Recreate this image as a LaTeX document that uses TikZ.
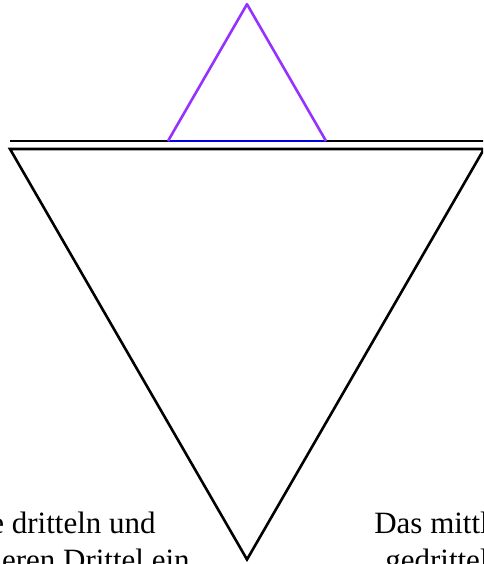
\documentclass[tikz,border=0pt]{standalone}
\usepackage{fontspec}
\setmainfont{Liberation Serif}
\definecolor{kochviolet}{RGB}{150,50,255}
\definecolor{kochblue}{RGB}{0,0,225}
\begin{document}
\begin{tikzpicture}[x=1pt, y=-1pt, line width=2.6pt,
  caption/.style={inner sep=0pt, font=\fontsize{31}{37}\selectfont}]
\useasboundingbox (0,0) rectangle (483,564);
\clip (0,0) rectangle (483,564);
\coordinate (l) at (10,149);
\coordinate (r) at (484,149);
\coordinate (bottom) at (247,559.5);
\coordinate (ul) at (10,141);
\coordinate (ur) at (484,141);
\coordinate (p) at (168,141);
\coordinate (q) at (326,141);
\coordinate (top) at (247,4.2);

\draw (l) -- (bottom) -- (r) -- cycle;
\draw (ul) -- (p);
\draw (q) -- (ur);
\draw[kochblue] (p) -- (q);
\draw[kochviolet, line join=round] (p) -- (top) -- (q);

\node[caption, anchor=base east] (left1) at (157,533) {e dritteln und};
\node[caption, anchor=base east] (left2) at (191,570) {eren Drittel ein};
\node[caption, anchor=base west] (right1) at (373,533) {Das mittl};
\node[caption, anchor=base west] (right2) at (384,570) {gedrittel};
\end{tikzpicture}
\end{document}
